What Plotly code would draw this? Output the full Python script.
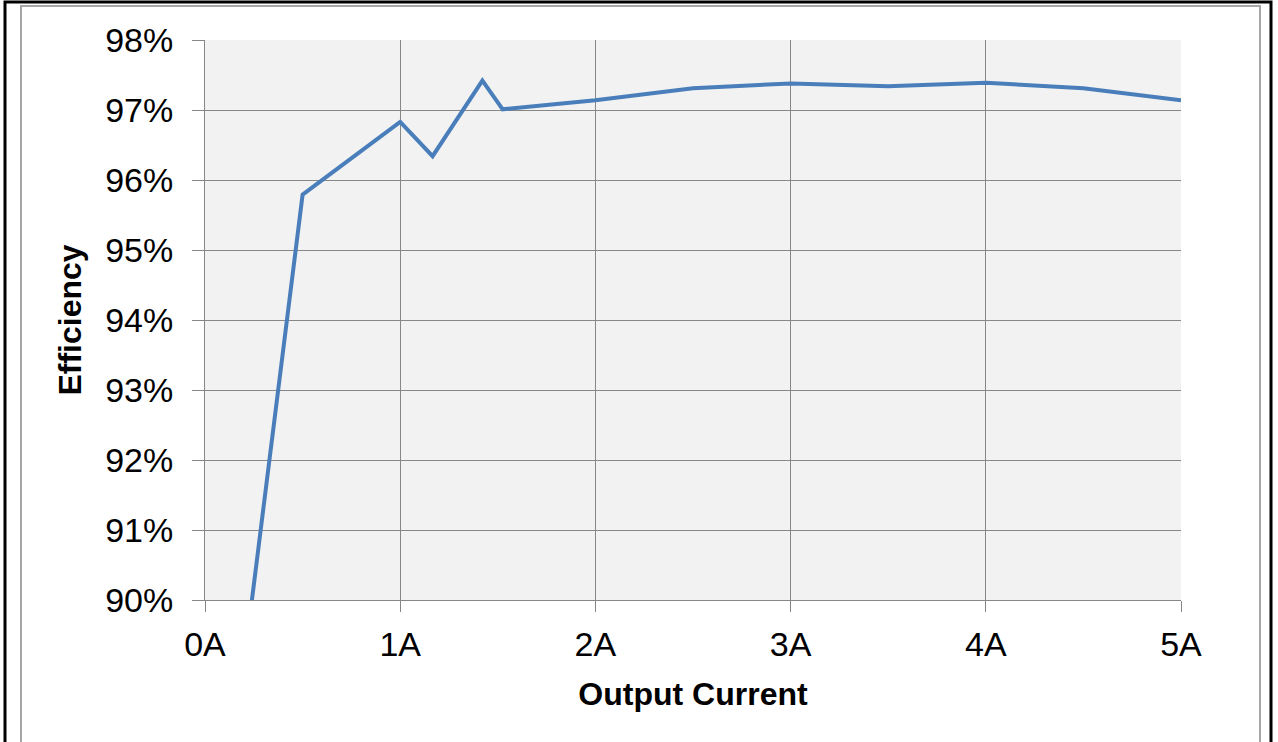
import plotly.graph_objects as go

current_a = [0.2, 0.5, 1.0, 1.166, 1.421, 1.525, 2.0, 2.5, 3.0, 3.5, 4.0, 4.5, 5.0]
efficiency_pct = [89.1, 95.79, 96.83, 96.34, 97.42, 97.01, 97.14, 97.31, 97.38, 97.34, 97.39, 97.31, 97.14]

x_tickvals = [0, 1, 2, 3, 4, 5]
x_ticktext = ["0A", "1A", "2A", "3A", "4A", "5A"]
y_tickvals = [90, 91, 92, 93, 94, 95, 96, 97, 98]
y_ticktext = ["90%", "91%", "92%", "93%", "94%", "95%", "96%", "97%", "98%"]

W, H = 1278, 742
L, R, T, B = 205, 1181, 40, 600

fig = go.Figure()
fig.add_trace(go.Scatter(
    x=current_a, y=efficiency_pct, mode="lines",
    line=dict(color="#4a7ebb", width=4),
    showlegend=False, hoverinfo="skip",
))

font = "Liberation Sans, Arial, sans-serif"
grid = "#878787"


def px_x(p):
    return (p - L) / (R - L)


def px_y(p):
    return (B - p) / (B - T)


fig.update_layout(
    width=W, height=H,
    margin=dict(l=L, r=W - R, t=T, b=H - B, pad=0),
    paper_bgcolor="white",
    plot_bgcolor="#f2f2f2",
    font=dict(family=font, color="black"),
    xaxis=dict(
        range=[0, 5], tickmode="array", tickvals=x_tickvals, ticktext=x_ticktext,
        showgrid=True, gridcolor=grid, gridwidth=1,
        showline=True, linecolor=grid, linewidth=1,
        ticks="outside", ticklen=11, tickcolor=grid, tickwidth=1,
        tickfont=dict(size=34, family=font, color="black"),
        ticklabelstandoff=3,
        zeroline=False, fixedrange=True,
        title=dict(text="<b>Output Current</b>", font=dict(size=32, family=font, color="black"), standoff=20),
    ),
    yaxis=dict(
        range=[90, 98], tickmode="array", tickvals=y_tickvals, ticktext=y_ticktext,
        showgrid=True, gridcolor=grid, gridwidth=1,
        showline=True, linecolor=grid, linewidth=1,
        ticks="outside", ticklen=12, tickcolor=grid, tickwidth=1,
        tickfont=dict(size=34, family=font, color="black"),
        ticklabelstandoff=12,
        zeroline=False, fixedrange=True,
        title=dict(text="<b>Efficiency</b>", font=dict(size=32, family=font, color="black"), standoff=13),
    ),
    shapes=[
        dict(type="rect", xref="paper", yref="paper",
             x0=px_x(21), x1=px_x(1260), y0=px_y(760), y1=px_y(6),
             line=dict(color="#a6a6a6", width=2), layer="below"),
        dict(type="rect", xref="paper", yref="paper",
             x0=px_x(5), x1=px_x(1271), y0=px_y(770), y1=px_y(2),
             line=dict(color="black", width=3), layer="below"),
    ],
)

fig.write_html(
    "out.html",
    config=dict(displayModeBar=False),
    post_script="document.body.style.margin='0';document.body.style.overflow='hidden';",
)
